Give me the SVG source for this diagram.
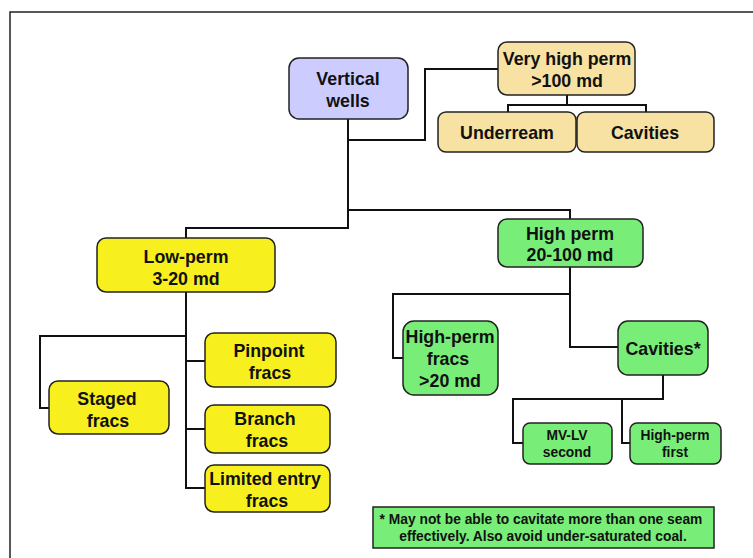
<svg xmlns="http://www.w3.org/2000/svg" width="753" height="558" viewBox="0 0 753 558">
<style>
text{font-family:"Liberation Sans",Arial,sans-serif;font-weight:bold;fill:#111;text-anchor:middle}
.t{font-size:17.8px}.s{font-size:13.8px}
.n{stroke:#222;stroke-width:1.5}
.c{fill:none;stroke:#111;stroke-width:2}
.vw{fill:#ccccff}.vh{fill:#f7e2a3}.y{fill:#f8f01e}.g{fill:#78ee78}
</style>
<rect x="0" y="0" width="753" height="558" fill="#fff"/>
<rect x="10" y="12" width="770" height="570" fill="none" stroke="#222" stroke-width="1.5"/>
<g id="connectors">
<path class="c" d="M348,119 V228 M348,140 H425 V69 H498 M567,95 V105 M508,112 V105 H646 V112 M349,210 H570 V219 M349,228 H186 V238 M186,292 V488 H205 M186,336 H40 V408 H49 M186,361 H205 M186,429 H205 M570,267 V347 H618 M570,294 H393 V358 H403 M663,375 V399 H513 V443 H523 M622,399 V443 H630"/>
</g>
<g id="vertical-wells"><rect class="n vw" x="289" y="58" width="119" height="61" rx="10"/><text class="t" x="348" y="85">Vertical</text><text class="t" x="348" y="107">wells</text></g>
<g id="very-high-perm"><rect class="n vh" x="498" y="42" width="137" height="53" rx="9"/><text class="t" x="567" y="65">Very high perm</text><text class="t" x="567" y="87">&gt;100 md</text></g>
<g id="underream"><rect class="n vh" x="438" y="112" width="138" height="40" rx="8"/><text class="t" x="507" y="139">Underream</text></g>
<g id="cavities-vh"><rect class="n vh" x="577" y="112" width="137" height="40" rx="8"/><text class="t" x="645" y="139">Cavities</text></g>
<g id="low-perm"><rect class="n y" x="97" y="238" width="178" height="54" rx="9"/><text class="t" x="186" y="263">Low-perm</text><text class="t" x="186" y="285">3-20 md</text></g>
<g id="staged-fracs"><rect class="n y" x="49" y="381" width="120" height="53" rx="9"/><text class="t" x="107" y="405">Staged</text><text class="t" x="108" y="427">fracs</text></g>
<g id="pinpoint-fracs"><rect class="n y" x="205" y="333" width="131" height="54" rx="9"/><text class="t" x="269" y="357">Pinpoint</text><text class="t" x="270" y="379">fracs</text></g>
<g id="branch-fracs"><rect class="n y" x="205" y="405" width="125" height="48" rx="9"/><text class="t" x="265" y="425">Branch</text><text class="t" x="267" y="447">fracs</text></g>
<g id="limited-entry-fracs"><rect class="n y" x="205" y="465" width="125" height="47" rx="9"/><text class="t" x="265" y="485">Limited entry</text><text class="t" x="267" y="507">fracs</text></g>
<g id="high-perm"><rect class="n g" x="498" y="219" width="145" height="48" rx="9"/><text class="t" x="570" y="240">High perm</text><text class="t" x="570" y="261">20-100 md</text></g>
<g id="high-perm-fracs"><rect class="n g" x="403" y="321" width="95" height="74" rx="11"/><text class="t" x="450" y="343">High-perm</text><text class="t" x="448" y="365">fracs</text><text class="t" x="450" y="387">&gt;20 md</text></g>
<g id="cavities-star"><rect class="n g" x="618" y="321" width="90" height="54" rx="10"/><text class="t" x="663" y="355">Cavities*</text></g>
<g id="mv-lv-second"><rect class="n g" x="523" y="423" width="89" height="41" rx="7"/><text class="s" x="567" y="440">MV-LV</text><text class="s" x="567" y="457">second</text></g>
<g id="high-perm-first"><rect class="n g" x="630" y="423" width="91" height="41" rx="7"/><text class="s" x="675" y="440">High-perm</text><text class="s" x="675" y="457">first</text></g>
<g id="note"><rect class="n g" x="373" y="507" width="341" height="41"/><text class="s" x="541" y="524">* May not be able to cavitate more than one seam</text><text class="s" x="543" y="541">effectively. Also avoid under-saturated coal.</text></g>
</svg>
